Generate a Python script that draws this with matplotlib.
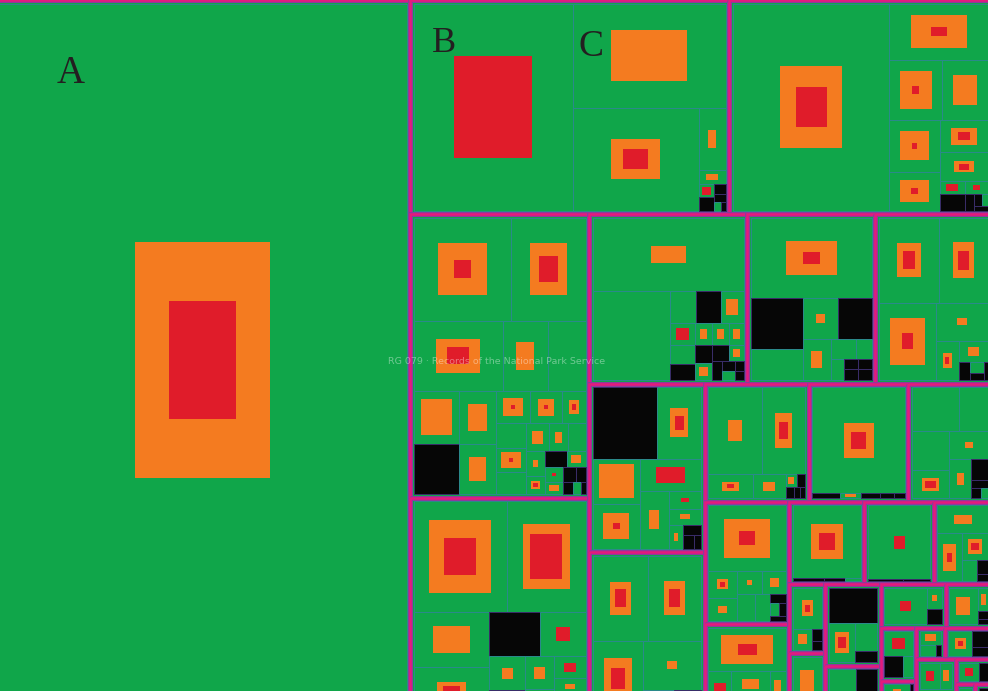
import numpy as np
import matplotlib.pyplot as plt
from matplotlib.patches import Rectangle

# top level record groups (area units), laid out with a squarified treemap
group_sizes = [298800, 68266, 56282, 50836, 39850, 26781, 21696, 19747, 19462, 19404,
               12324, 11791, 9895, 10351, 8070, 6188, 5734, 4785,
               2470, 2405, 4500, 3000, 2800, 2000, 1900, 700, 700, 900,
               1500, 1300, 1100, 900, 700, 600]

# series inside every group: size, share of the orange block, share of the red block
child_sizes = [
    [1],
    [32900, 15960, 12950, 1675, 375, 200, 200, 120, 90, 60, 40],
    [32085, 5500, 3127, 2773, 2544, 1920, 1560, 1386, 330, 400, 306, 150, 100, 80, 60],
    [10100, 7676, 6188, 3128, 2652, 2408, 2279, 1960, 1855, 1110, 1050, 780, 728, 702, 675,
     650, 520, 500, 470, 340, 330, 290, 290, 220, 200, 150, 120, 90, 60],
    [10260, 8748, 4161, 3744, 2240, 2040, 1224, 952, 945, 783, 700, 500, 400, 300],
    [11700, 7221, 850, 828, 780, 560, 500, 420, 400, 380, 350, 330, 300, 280, 250, 200, 150, 120, 100, 80],
    [10044, 2703, 1643, 1440, 1400, 1176, 540, 322, 300, 150, 150, 150, 150],
    [5133, 4263, 4453, 2021, 900, 650, 200, 150, 100, 80],
    [4824, 3312, 2193, 2193, 2108, 1749, 588, 544, 352, 200, 150, 100],
    [5130, 4950, 4200, 3100, 900, 500, 300],
    [4840, 3960, 1140, 840, 150, 120, 100, 80, 60],
    [10464, 150, 120, 100, 80, 60],
    [2064, 1290, 1480, 1040, 1148, 874, 350, 150, 100, 80],
    [5265, 792, 693, 600, 552, 525, 420, 150, 120, 100, 80],
    [3900, 1200, 1100, 900, 600, 150, 100],
    [6000, 120, 80, 60],
    [5800, 100, 80],
    [1749, 1419, 860, 400, 200, 100],
    [1540, 525, 150, 100],
    [2030, 250, 125],
    [2000, 1200, 700, 300],
    [1584, 1104, 150],
    [2000, 400, 300],
    [1254, 300, 100, 66],
    [1100, 600, 300],
    [594, 60],
    [648, 60],
    [500, 300, 100],
    [900, 400, 200],
    [800, 500],
    [700, 400],
    [600, 300],
    [700],
    [400, 200],
]

orange_share = [
    [0.11],
    [0, .244, .155, .09, .22, 0, 0, 0, 0, 0, 0],
    [.158, .33, .38, .26, .32, .34, .28, .16, 0, 0, 0, 0, 0, 0, 0],
    [.25, .254, .245, .155, 0, .45, 0, .25, .21, .32, .27, .17, 0, .46, 0,
     .23, .17, 0, .08, .2, 0, .25, 0, .3, 0, 0, 0, 0, 0],
    [.44, .355, .23, .15, 0, 0, .1, 0, .14, 0, 0, .1, 0, 0],
    [.055, 0, 0, 0, .28, 0, 0, 0, .2, .2, .2, 0, .25, 0, .25, 0, 0, 0, 0, 0],
    [.176, 0, 0, .056, 0, .17, 0, 0, 0, 0, 0, 0, 0],
    [.152, .18, .366, .04, .16, .15, 0, 0, 0, 0],
    [0, .166, .57, .32, 0, .11, 0, .1, .11, 0, 0, 0],
    [.15, .155, .3, .03, .2, 0, 0],
    [.06, .16, .135, .13, .3, 0, 0, 0, 0],
    [.107, 0, .3, 0, 0, 0],
    [0, 0, 0, .2, .04, .1, 0, 0, 0, 0],
    [.356, .14, .1, .05, .15, 0, 0, 0, 0, 0, 0],
    [.45, 0, .18, 0, .2, 0, 0],
    [.23, 0, 0, 0],
    [0, 0, 0],
    [.12, .32, .3, 0, 0, 0],
    [.15, .23, 0, 0],
    [.24, 0, 0],
    [0, .3, 0, 0],
    [0, 0, 0],
    [0, .1, 0],
    [.24, .2, 0, 0],
    [0, 0, 0],
    [.1, 0],
    [0, 0],
    [.25, 0, 0],
    [.2, 0, 0],
    [0, .2],
    [.2, 0],
    [0, 0],
    [.25],
    [0, 0],
]

red_share = [
    [0.0275],
    [.24, 0, .04, 0, 0, .35, 0, 0, 0, 0, 0],
    [.039, .023, .016, 0, .014, .019, .067, .04, .25, 0, .1, 0, 0, 0, 0],
    [.029, .062, .06, 0, 0, 0, 0, 0, 0, .018, .018, .026, 0, .023, 0,
     0, 0, 0, 0, .06, 0, 0, .048, 0, 0, 0, 0, 0, 0],
    [.112, .16, 0, .05, 0, .1, 0, 0, 0, .14, .15, 0, 0, 0],
    [0, 0, 0, 0, 0, .3, 0, 0, 0, 0, 0, 0, 0, 0, 0, 0, 0, 0, 0, 0],
    [.0215, 0, 0, 0, 0, 0, 0, 0, 0, 0, 0, 0, 0],
    [.042, .05, .041, 0, .028, 0, 0, 0, 0, 0],
    [0, .042, 0, .022, .23, 0, .06, 0, 0, 0, 0, 0],
    [.042, .044, .07, 0, 0, 0, 0],
    [0, .039, .03, 0, 0, 0, 0, 0, 0],
    [.026, 0, 0, 0, 0, 0],
    [0, 0, 0, .077, 0, 0, 0, 0, 0, 0],
    [.042, .03, 0, 0, 0, 0, 0, 0, 0, 0, 0],
    [.06, .25, 0, 0, 0, 0, 0],
    [.058, 0, 0, 0],
    [.032, 0, 0],
    [0, .035, .08, 0, 0, 0],
    [.035, 0, 0, 0],
    [0, 0, 0],
    [0, .08, 0, 0],
    [0, 0, 0],
    [.072, 0, 0],
    [0, 0, 0, 0],
    [.2, 0, 0],
    [0, 0],
    [.17, 0],
    [0, 0, 0],
    [.05, 0, 0],
    [.15, 0],
    [0, 0],
    [.2, 0],
    [0],
    [0, 0],
]

# g = green cell, k = black cell
cell_kind = [
    "g",
    "ggggggkkkgk",
    "gggggggggkgkkgk",
    "ggggggkgggggggggggggkgggkkkgk",
    "ggggkggkgggggk",
    "gggkgggkgggkgkgkkgkk",
    "gkggkggggkkkk",
    "ggggggkgkk",
    "kggggggggkkk",
    "gggggkk",
    "gggggkkkk",
    "gkgkkk",
    "ggggggkkkg",
    "gggggggkgkk",
    "gggggkk",
    "gkkg",
    "gkk",
    "ggggkk",
    "ggkk",
    "gkk",
    "kggk",
    "gkk",
    "ggk",
    "ggkk",
    "gkg",
    "gk",
    "gk",
    "ggk",
    "gkk",
    "gg",
    "gk",
    "gk",
    "g",
    "kg",
]

for s, o, r, k in zip(child_sizes, orange_share, red_share, cell_kind):
    assert len(s) == len(o) == len(r) == len(k), (len(s), len(o), len(r), len(k))

GREEN = '#10a64a'
ORANGE = '#f47b20'
RED = '#e01c2a'
BLACK = '#060606'
TEAL = '#2b8a8c'
DARK_EDGE = '#3a2d6a'
MAGENTA = '#e6197c'
PURPLE = '#8e3a9c'


def worst(row, side):
    s = sum(row)
    return max(max(side * side * r / (s * s), s * s / (side * side * r)) for r in row)


def squarify(sizes, x, y, dx, dy):
    total = float(sum(sizes))
    sizes = [v * dx * dy / total for v in sizes]
    rects = []
    while sizes:
        if len(sizes) == 1:
            rects.append((x, y, dx, dy))
            break
        side = min(dx, dy)
        row = [sizes[0]]
        i = 1
        while i < len(sizes) and worst(row + [sizes[i]], side) <= worst(row, side):
            row.append(sizes[i])
            i += 1
        sizes = sizes[i:]
        s = sum(row)
        if dx >= dy:
            w = s / dy
            yy = y
            for r in row:
                rects.append((x, yy, w, r / w))
                yy += r / w
            x += w
            dx -= w
        else:
            h = s / dx
            xx = x
            for r in row:
                rects.append((xx, y, r / h, h))
                xx += r / h
            y += h
            dy -= h
    return rects


fig = plt.figure(figsize=(9.88, 6.91), dpi=100, facecolor=GREEN)
ax = fig.add_axes([0, 0, 1, 1])
ax.set_xlim(0, 988)
ax.set_ylim(691, 0)
ax.axis('off')

pad = 3.5
group_rects = squarify(group_sizes, -5, 0, 997, 720)
for (gx, gy, gw, gh), sizes, osh, rsh, kinds in zip(group_rects, child_sizes, orange_share,
                                                    red_share, cell_kind):
    cells = squarify(sizes, gx + pad, gy + pad, gw - 2 * pad, gh - 2 * pad)
    for (cx, cy, cw, ch), o, r, k in zip(cells, osh, rsh, kinds):
        if k == 'k':
            ax.add_patch(Rectangle((cx, cy), cw, ch, facecolor=BLACK, edgecolor=DARK_EDGE, lw=0.7))
            continue
        ax.add_patch(Rectangle((cx, cy), cw, ch, facecolor=GREEN, edgecolor=TEAL, lw=0.7))
        for share, col in ((o, ORANGE), (r, RED)):
            if share > 0:
                f = np.sqrt(share)
                ax.add_patch(Rectangle((cx + cw * (1 - f) / 2, cy + ch * (1 - f) / 2),
                                       cw * f, ch * f, facecolor=col, edgecolor='none'))

for gx, gy, gw, gh in group_rects:
    ax.add_patch(Rectangle((gx, gy), gw, gh, fill=False, edgecolor=PURPLE, lw=3.6))
    ax.add_patch(Rectangle((gx, gy), gw, gh, fill=False, edgecolor=MAGENTA, lw=1.8))

ax.text(71, 83, 'A', fontsize=28, family='Liberation Serif', color='#231f20', ha='center', va='baseline')
ax.text(443.5, 52, 'B', fontsize=26, family='Liberation Serif', color='#231f20', ha='center', va='baseline')
ax.text(590.5, 56, 'C', fontsize=27, family='Liberation Serif', color='#231f20', ha='center', va='baseline')

ax.text(497, 361, 'RG 079 \u00b7 Records of the National Park Service', fontsize=6.8,
        family=['Liberation Sans Narrow', 'DejaVu Sans'], color='white', alpha=0.4,
        ha='center', va='center')

fig.savefig('out.png', dpi=100, facecolor=GREEN)
